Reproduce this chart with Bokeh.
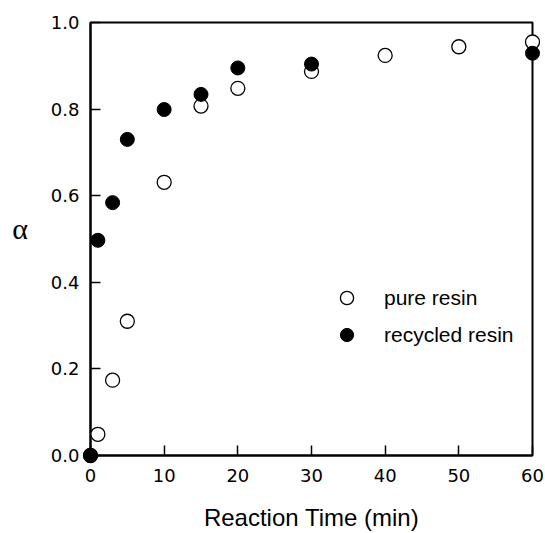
from bokeh.plotting import figure
from bokeh.models import Range1d, FixedTicker, PrintfTickFormatter, Legend, LegendItem
from bokeh.embed import file_html
from bokeh.resources import INLINE

# Data
time_pure = [0, 1, 3, 5, 10, 15, 20, 30, 40, 50, 60]
alpha_pure = [0.0, 0.049, 0.174, 0.310, 0.631, 0.807, 0.848, 0.887, 0.924, 0.944, 0.955]

time_recycled = [0, 1, 3, 5, 10, 15, 20, 30, 60]
alpha_recycled = [0.0, 0.497, 0.584, 0.730, 0.799, 0.834, 0.895, 0.904, 0.929]

x_ticks = [0, 10, 20, 30, 40, 50, 60]
y_ticks = [0.0, 0.2, 0.4, 0.6, 0.8, 1.0]

p = figure(width=545, height=533,
           x_range=Range1d(0, 60), y_range=Range1d(0, 1),
           output_backend="svg", toolbar_location=None,
           min_border_left=90, min_border_right=13,
           min_border_top=22, min_border_bottom=76)

p.grid.visible = False
p.outline_line_color = "black"
p.outline_line_width = 2
p.background_fill_color = "white"
p.border_fill_color = "white"

for ax in (p.xaxis[0], p.yaxis[0]):
    ax.axis_line_width = 2
    ax.axis_line_color = "black"
    ax.major_tick_in = 10
    ax.major_tick_out = 0
    ax.major_tick_line_width = 1.5
    ax.major_tick_line_color = "black"
    ax.minor_tick_line_color = None
    ax.major_label_text_font = "DejaVu Sans"
    ax.major_label_text_font_size = "18px"
    ax.major_label_text_color = "black"

p.xaxis.ticker = FixedTicker(ticks=x_ticks)
p.yaxis.ticker = FixedTicker(ticks=y_ticks)
p.yaxis.formatter = PrintfTickFormatter(format="%.1f")
p.xaxis.major_label_standoff = 13
p.yaxis.major_label_standoff = 11

p.xaxis.axis_label = "Reaction Time (min)"
p.xaxis.axis_label_text_font = "Liberation Sans"
p.xaxis.axis_label_text_font_size = "24px"
p.xaxis.axis_label_text_font_style = "normal"
p.xaxis.axis_label_text_color = "black"
p.xaxis.axis_label_standoff = 19

p.yaxis.axis_label = "α\n"
p.yaxis.axis_label_orientation = "horizontal"
p.yaxis.axis_label_text_font = "Liberation Serif"
p.yaxis.axis_label_text_font_size = "30px"
p.yaxis.axis_label_text_font_style = "normal"
p.yaxis.axis_label_text_color = "black"
p.yaxis.axis_label_text_line_height = 0.65
p.yaxis.axis_label_standoff = 20

r_pure = p.scatter(time_pure, alpha_pure, marker="circle", size=14,
                   fill_color="white", line_color="black", line_width=1.3,
                   level="overlay")
r_rec = p.scatter(time_recycled, alpha_recycled, marker="circle", size=14,
                  fill_color="black", line_color="black", line_width=1,
                  level="overlay")

legend = Legend(items=[LegendItem(label="pure resin", renderers=[r_pure]),
                       LegendItem(label="recycled resin", renderers=[r_rec])],
                location=(240, 104),
                border_line_color=None, background_fill_alpha=0,
                padding=0, margin=0, spacing=4,
                glyph_width=33, glyph_height=33, label_standoff=21,
                label_text_font="Liberation Sans", label_text_font_size="21px",
                label_text_color="black")
p.add_layout(legend, "center")

open("out.html", "w").write(file_html(p, INLINE))
